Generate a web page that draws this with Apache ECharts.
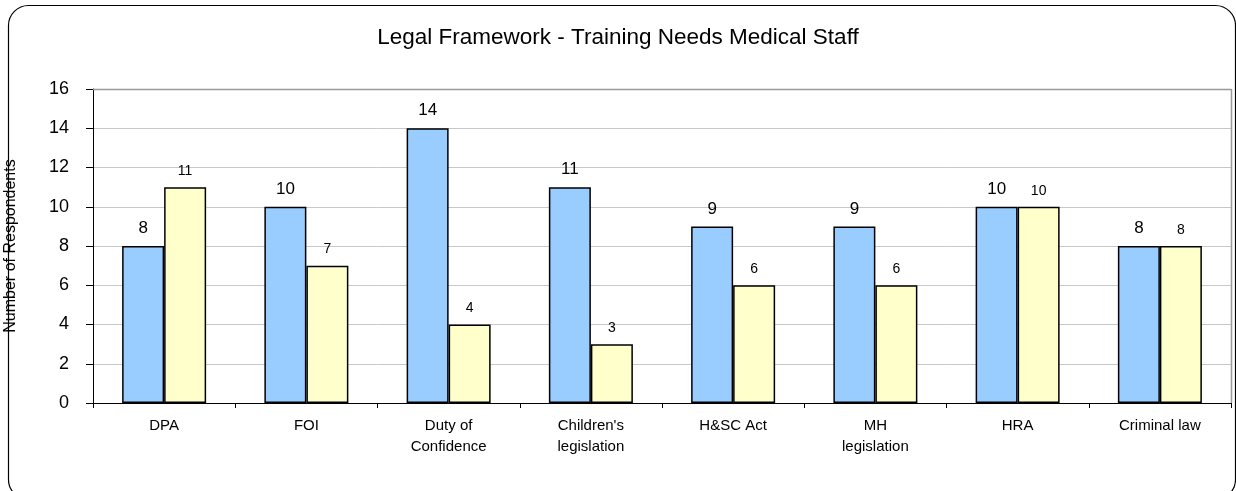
<!DOCTYPE html>
<html>
<head>
<meta charset="utf-8">
<script src="https://cdn.jsdelivr.net/npm/echarts@6/dist/echarts.min.js"></script>
<style>
html,body{margin:0;padding:0;background:#fff;}
#c{width:1236px;height:491px;}
</style>
</head>
<body>
<div id="c"></div>
<script>
var categories = ["DPA", "FOI", "Duty of\nConfidence", "Children's\nlegislation", "H&SC Act", "MH\nlegislation", "HRA", "Criminal law"];
var seriesA = [8, 10, 14, 11, 9, 9, 10, 8];
var seriesB = [11, 7, 4, 3, 6, 6, 10, 8];
var yTicks = {min: 0, max: 16, interval: 2};

var FONT = 'Liberation Sans, Arial, sans-serif';
var chart = echarts.init(document.getElementById('c'), null, {renderer: 'canvas'});
var grid = {left: 93, right: 5, top: 89, bottom: 88, containLabel: false, outerBoundsMode: 'none'};
chart.setOption({
  animation: false,
  backgroundColor: '#fff',
  title: {
    text: 'Legal Framework - Training Needs Medical Staff',
    left: 'center', top: 21,
    textStyle: {fontFamily: FONT, fontSize: 22.5, fontWeight: 'normal', color: '#000'}
  },
  graphic: [
    {type: 'rect', shape: {x: 8.5, y: 5.5, width: 1227, height: 494, r: 20}, style: {fill: 'none', stroke: '#000', lineWidth: 1.2}, z: -1},
    {type: 'line', shape: {x1: 93, y1: 89.5, x2: 1231.5, y2: 89.5}, style: {stroke: '#999', lineWidth: 1.5}, z: 5},
    {type: 'line', shape: {x1: 1231.5, y1: 89, x2: 1231.5, y2: 403}, style: {stroke: '#999', lineWidth: 1.5}, z: 5}
  ],
  grid: grid,
  xAxis: {
    type: 'category',
    data: categories,
    axisLine: {lineStyle: {color: '#000', width: 1}},
    axisTick: {show: true, length: 5, lineStyle: {color: '#000'}},
    axisLabel: {fontFamily: FONT, fontSize: 15, color: '#000', margin: 12, lineHeight: 21, interval: 0}
  },
  yAxis: {
    type: 'value',
    min: yTicks.min, max: yTicks.max, interval: yTicks.interval,
    name: 'Number of Respondents',
    nameLocation: 'middle',
    nameGap: 74,
    nameRotate: 90,
    nameTextStyle: {fontFamily: FONT, fontSize: 16, color: '#000'},
    axisLine: {show: true, lineStyle: {color: '#000', width: 1}},
    axisTick: {show: true, length: 7, lineStyle: {color: '#000'}},
    axisLabel: {fontFamily: FONT, fontSize: 18, color: '#000', margin: 24},
    splitLine: {show: true, lineStyle: {color: '#c8c8c8', width: 1}}
  },
  series: [
    {
      type: 'bar', data: seriesA, barWidth: 42, barGap: '0%',
      itemStyle: {color: '#99CCFF', borderColor: '#000', borderWidth: 1.5},
      label: {show: true, position: 'top', distance: 9, fontFamily: FONT, fontSize: 17, color: '#000'}
    },
    {
      type: 'bar', data: seriesB, barWidth: 42, barGap: '0%',
      itemStyle: {color: '#FFFFCC', borderColor: '#000', borderWidth: 1.5},
      label: {show: true, position: 'top', distance: 9, fontFamily: FONT, fontSize: 14, color: '#000'}
    }
  ]
});
</script>
</body>
</html>
